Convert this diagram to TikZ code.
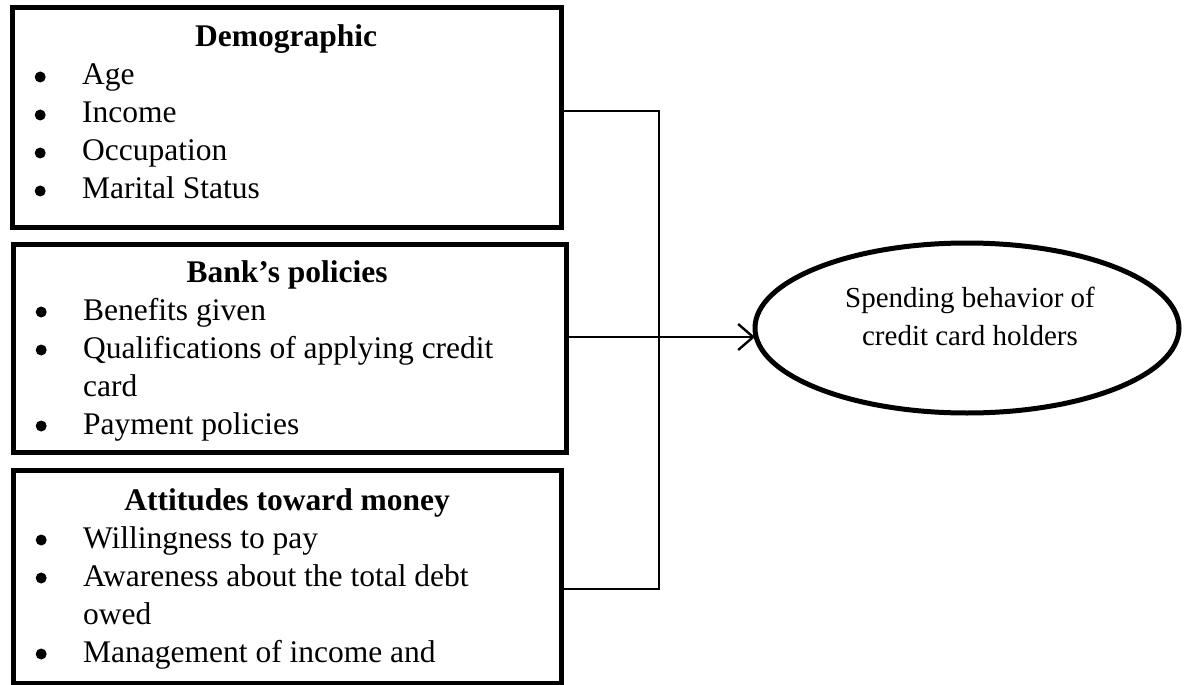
\documentclass[tikz,border=0pt]{standalone}
\usepackage{fontspec}
\setmainfont{Liberation Serif}
\usetikzlibrary{shapes.geometric,arrows.meta}

% round list bullet
\newcommand{\listdot}{\raisebox{2.5pt}{\tikz\fill (0,0) circle (5.5pt);}}
% one bulleted entry with a hanging indent for wrapped lines
\newcommand{\factoritem}[1]{\par\noindent\hangindent=67pt\hangafter=1
  \makebox[67pt][l]{\hspace{19.5pt}\listdot}#1\par}
% title plus bullet list of one factor group
\newcommand{\factortext}[2]{\parbox[t]{542pt}{\fontsize{31.5}{38}\selectfont\raggedright
  {\centering\bfseries #1\par}#2}}

\tikzset{
  factorbox/.style={draw, rectangle, line width=5pt, inner sep=0pt, outer sep=0pt, anchor=north west},
  factortxt/.style={anchor=base west, inner sep=0pt},
  outcome/.style={draw, ellipse, line width=5pt, inner sep=0pt, outer sep=0pt},
  link/.style={line width=2.4pt},
  linkarrow/.style={line width=2.4pt, -{Straight Barb[length=15pt,width=26pt]}}
}

\begin{document}
\begin{tikzpicture}[x=1pt,y=-1pt]
\useasboundingbox (0,0) rectangle (1189,685);

% factor groups
\node[factorbox, minimum width=549pt, minimum height=219pt] (demo) at (12,8) {};
\node[factortxt] (demotxt) at (15,47) {\factortext{Demographic}{%
  \factoritem{Age}\factoritem{Income}\factoritem{Occupation}\factoritem{Marital Status}}};

\node[factorbox, minimum width=553pt, minimum height=208pt] (bank) at (13,244) {};
\node[factortxt] (banktxt) at (16,282) {\factortext{Bank’s policies}{%
  \factoritem{Benefits given}\factoritem{Qualifications of applying credit\newline card}%
  \factoritem{Payment policies}}};

\node[factorbox, minimum width=548pt, minimum height=213pt] (attit) at (13,470) {};
\node[factortxt] (attittxt) at (16,510) {\factortext{Attitudes toward money}{%
  \factoritem{Willingness to pay}\factoritem{Awareness about the total debt\newline owed}%
  \factoritem{Management of income and}}};

% outcome
\node[outcome, minimum width=424pt, minimum height=170pt] (spend) at (967,328) {};
\node[anchor=base, inner sep=0pt] (spendtxt) at (970,307)
  {\parbox[t]{400pt}{\fontsize{29}{38}\selectfont\centering Spending behavior of\\credit card holders}};

% connectors
\coordinate (jtop) at (659,111);
\coordinate (jmid) at (659,337);
\coordinate (jbot) at (659,589);
\draw[link] (demo.east |- jtop) -- (jtop) -- (jbot) -- (attit.east |- jbot);
\draw[linkarrow] (bank.east |- jmid) -- (spend.west |- jmid);
\end{tikzpicture}
\end{document}
